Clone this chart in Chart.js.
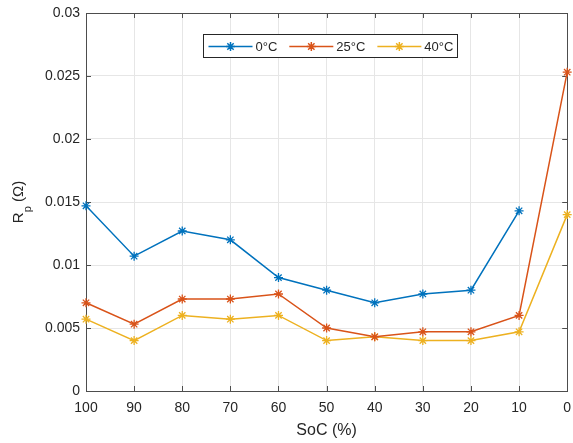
<!DOCTYPE html>
<html>
<head>
<meta charset="utf-8">
<script src="https://cdn.jsdelivr.net/npm/chart.js@4"></script>
<style>
  html, body { margin: 0; padding: 0; background: #fff; }
  #wrap { width: 573px; height: 443px; position: relative; }
</style>
</head>
<body>
<div id="wrap"><canvas id="c" width="573" height="443"></canvas></div>
<script>
// ---- data ----
const socLabels = ['100', '90', '80', '70', '60', '50', '40', '30', '20', '10', '0'];
const seriesNames = ['0°C', '25°C', '40°C'];
const rp0C  = [0.0147, 0.0107, 0.0127, 0.0120, 0.0090, 0.0080, 0.0070, 0.0077, 0.0080, 0.0143, null];
const rp25C = [0.0070, 0.0053, 0.0073, 0.0073, 0.0077, 0.0050, 0.0043, 0.0047, 0.0047, 0.0060, 0.0253];
const rp40C = [0.0057, 0.0040, 0.0060, 0.0057, 0.0060, 0.0040, 0.0043, 0.0040, 0.0040, 0.0047, 0.0140];
const yTicks = [0, 0.005, 0.01, 0.015, 0.02, 0.025, 0.03];
const xTitle = 'SoC (%)';
const yTitleMain = 'R';
const yTitleSub = 'p';
const yTitleRest = ' (Ω)';

const colors = ['#0072BD', '#D95319', '#EDB120'];
const FONT = 'Arial, "Liberation Sans", Helvetica, sans-serif';
const TXT = '#262626';

function mkDs(label, data, color) {
  return {
    label, data,
    borderColor: color, backgroundColor: color,
    borderWidth: 1.5,
    pointStyle: 'star', pointRadius: 4.5, pointBorderWidth: 1.3,
    pointBorderColor: color, pointBackgroundColor: color,
    pointHoverRadius: 4.5,
    tension: 0, spanGaps: false, fill: false
  };
}

const boxPlugin = {
  id: 'matlabBox',
  beforeDatasetsDraw(chart) {
    const ctx = chart.ctx, a = chart.chartArea;
    const xs = chart.scales.x, ys = chart.scales.y;
    ctx.save();
    ctx.strokeStyle = '#4d4d4d';
    ctx.lineWidth = 1;
    ctx.strokeRect(Math.round(a.left) + 0.5, Math.round(a.top) + 0.5,
                   Math.round(a.right - a.left), Math.round(a.bottom - a.top));
    const tl = 5;
    ctx.beginPath();
    for (let i = 0; i < socLabels.length; i++) {
      const x = Math.round(xs.getPixelForValue(i)) + 0.5;
      ctx.moveTo(x, a.bottom); ctx.lineTo(x, a.bottom - tl);
      ctx.moveTo(x, a.top); ctx.lineTo(x, a.top + tl);
    }
    yTicks.forEach(v => {
      const y = Math.round(ys.getPixelForValue(v)) + 0.5;
      ctx.moveTo(a.left, y); ctx.lineTo(a.left + tl, y);
      ctx.moveTo(a.right, y); ctx.lineTo(a.right - tl, y);
    });
    ctx.stroke();
    ctx.restore();
  },
  afterDraw(chart) {
    const ctx = chart.ctx, a = chart.chartArea;
    // y-axis title with subscript
    ctx.save();
    ctx.fillStyle = TXT;
    const big = '15px ' + FONT, small = '11px ' + FONT;
    ctx.font = big;
    const wR = ctx.measureText(yTitleMain).width;
    const wRest = ctx.measureText(yTitleRest).width;
    ctx.font = small;
    const wP = ctx.measureText(yTitleSub).width;
    const total = wR + wP + wRest;
    const cy = (a.top + a.bottom) / 2;
    ctx.translate(23, cy);
    ctx.rotate(-Math.PI / 2);
    ctx.textBaseline = 'alphabetic';
    ctx.textAlign = 'left';
    let x = -total / 2;
    ctx.font = big; ctx.fillText(yTitleMain, x, 0); x += wR;
    ctx.font = small; ctx.fillText(yTitleSub, x, 8); x += wP;
    ctx.font = big; ctx.fillText(yTitleRest, x, 0);
    ctx.restore();

    // legend box
    ctx.save();
    const cx = (a.left + a.right) / 2;
    const bx = Math.round(cx - 124) + 0.5, by = Math.round(a.top + 21) + 0.5;
    const bw = 254, bh = 23;
    ctx.fillStyle = '#ffffff';
    ctx.fillRect(bx, by, bw, bh);
    ctx.strokeStyle = '#262626';
    ctx.lineWidth = 1;
    ctx.strokeRect(bx, by, bw, bh);
    ctx.font = '13px ' + FONT;
    ctx.textBaseline = 'middle';
    ctx.textAlign = 'left';
    const ly = by + bh / 2 + 0.5;
    let lx = bx + 5;
    chart.data.datasets.forEach((ds, i) => {
      ctx.strokeStyle = ds.borderColor;
      ctx.lineWidth = 1.5;
      ctx.beginPath(); ctx.moveTo(lx, ly); ctx.lineTo(lx + 44, ly); ctx.stroke();
      Chart.helpers.drawPoint(ctx, { pointStyle: 'star', radius: 4.5, borderWidth: 1.3 }, lx + 22, ly);
      ctx.fillStyle = TXT;
      ctx.fillText(ds.label, lx + 47, ly + 1);
      lx += 47 + ctx.measureText(ds.label).width + 12;
    });
    ctx.restore();
  }
};

new Chart(document.getElementById('c'), {
  type: 'line',
  data: {
    labels: socLabels,
    datasets: [
      mkDs(seriesNames[0], rp0C, colors[0]),
      mkDs(seriesNames[1], rp25C, colors[1]),
      mkDs(seriesNames[2], rp40C, colors[2])
    ]
  },
  options: {
    responsive: false,
    animation: false,
    devicePixelRatio: 1,
    layout: { padding: { top: 13, right: 5, left: 0, bottom: 0 } },
    plugins: { legend: { display: false }, tooltip: { enabled: false } },
    events: [],
    scales: {
      x: {
        type: 'category',
        offset: false,
        grid: { color: '#e6e6e6', drawTicks: false, lineWidth: 1 },
        border: { display: false },
        ticks: { color: TXT, font: { family: FONT, size: 14 }, padding: 9, maxRotation: 0, autoSkip: false },
        title: { display: true, text: xTitle, color: TXT, font: { family: FONT, size: 16 }, padding: { top: 2, bottom: 3 } },
        afterFit(s) { s.height = 52; s.paddingLeft = 0; s.paddingRight = 0; }
      },
      y: {
        min: 0, max: 0.03,
        afterBuildTicks(s) { s.ticks = yTicks.map(v => ({ value: v })); },
        grid: { color: '#e6e6e6', drawTicks: false, lineWidth: 1 },
        border: { display: false },
        ticks: {
          color: TXT, font: { family: FONT, size: 14 }, padding: 6,
          callback: v => String(parseFloat(Number(v).toFixed(4)))
        },
        afterFit(s) { s.width = 86; s.paddingTop = 0; s.paddingBottom = 0; }
      }
    }
  },
  plugins: [boxPlugin]
});
</script>
</body>
</html>
